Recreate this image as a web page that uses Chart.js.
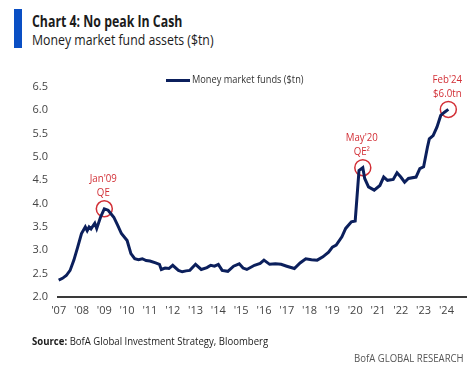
<!DOCTYPE html>
<html>
<head>
<meta charset="utf-8">
<script src="https://cdn.jsdelivr.net/npm/chart.js@4"></script>
<style>
  body { margin: 0; background: #fff; font-family: "Open Sans", sans-serif; }
  .page { position: relative; width: 476px; height: 365px; overflow: hidden; }
  .bar { position: absolute; left: 14px; top: 9px; width: 8px; height: 39px; background: #0a4fc4; }
  .txt { position: absolute; white-space: nowrap; color: #1b1b1b; transform-origin: left top; }
  #title { left: 32px; top: 10px; font-size: 16px; font-weight: 700; transform: scaleX(0.77); }
  #subtitle { left: 32px; top: 29px; font-size: 15px; transform: scaleX(0.82); }
  #source { left: 32px; top: 333px; font-size: 11px; transform: scaleX(0.87); }
  #brand { left: 354px; top: 350px; font-size: 11px; color: #555; transform: scaleX(0.87); }
  canvas { position: absolute; left: 0; top: 0; }
</style>
</head>
<body>
<div class="page">
  <div class="bar"></div>
  <div class="txt" id="title">Chart 4: No peak In Cash</div>
  <div class="txt" id="subtitle">Money market fund assets ($tn)</div>
  <canvas id="mmfChart" width="476" height="365"></canvas>
  <div class="txt" id="source"><b>Source:</b> BofA Global Investment Strategy, Bloomberg</div>
  <div class="txt" id="brand">BofA GLOBAL RESEARCH</div>
</div>
<script>
/* ================= DATA ================= */

const months = [
  "2007-01", "2007-03", "2007-05", "2007-07", "2007-09", "2007-11",
  "2008-01", "2008-03", "2008-04", "2008-05", "2008-06", "2008-08", "2008-09", "2008-11",
  "2009-01", "2009-03", "2009-06", "2009-08", "2009-10",
  "2010-01", "2010-03", "2010-05", "2010-07", "2010-09", "2010-11",
  "2011-01", "2011-04", "2011-06", "2011-07", "2011-09", "2011-11",
  "2012-01", "2012-04", "2012-06", "2012-08", "2012-10",
  "2013-01", "2013-04", "2013-07", "2013-09", "2013-11",
  "2014-01", "2014-03", "2014-06", "2014-09", "2014-12",
  "2015-02", "2015-04", "2015-08", "2015-11",
  "2016-01", "2016-04", "2016-07", "2016-10",
  "2017-01", "2017-05", "2017-08", "2017-11",
  "2018-02", "2018-05", "2018-08", "2018-11",
  "2019-01", "2019-03", "2019-06", "2019-08", "2019-11",
  "2020-01", "2020-03", "2020-05", "2020-06", "2020-08", "2020-11",
  "2021-02", "2021-04", "2021-06", "2021-09", "2021-11",
  "2022-01", "2022-03", "2022-05", "2022-09", "2022-11",
  "2023-01", "2023-03", "2023-04", "2023-06", "2023-08", "2023-10", "2023-12",
  "2024-02"
];

const mmfAssets = [
  2.36, 2.40, 2.46, 2.57, 2.79, 3.07,
  3.36, 3.50, 3.42, 3.50, 3.46, 3.58, 3.47, 3.71,
  3.89, 3.86, 3.71, 3.54, 3.36,
  3.21, 2.93, 2.82, 2.80, 2.82, 2.78,
  2.77, 2.73, 2.70, 2.59, 2.62, 2.61,
  2.68, 2.57, 2.54, 2.56, 2.57,
  2.70, 2.59, 2.63, 2.68, 2.66,
  2.70, 2.57, 2.55, 2.66, 2.71,
  2.62, 2.59, 2.68, 2.72,
  2.79, 2.70, 2.71, 2.70,
  2.66, 2.61, 2.73, 2.82,
  2.80, 2.79, 2.86, 2.96,
  3.07, 3.11, 3.29, 3.47, 3.61,
  3.63, 4.71, 4.77, 4.54, 4.36, 4.29,
  4.39, 4.57, 4.50, 4.52, 4.66,
  4.57, 4.46, 4.54, 4.57, 4.75,
  4.79, 5.21, 5.39, 5.46, 5.64, 5.89, 5.96,
  6.02
];

const tickYears = [2007, 2008, 2009, 2010, 2011, 2012, 2013, 2014, 2015,
                   2016, 2017, 2018, 2019, 2020, 2021, 2022, 2023, 2024];

const callMonths = ["2009-01", "2020-05", "2024-02"];
const callValues = [3.89, 4.77, 6.02];
const callLabels = [["Jan'09", "QE"], ["May'20", "QE\u00B2"], ["Feb'24", "$6.0tn"]];

const seriesName = "Money market funds ($tn)";

/* ================= HELPERS ================= */

const NAVY = "#0b1f5c";
const RED = "#d22f36";
const FONT = "'Open Sans', sans-serif";

function toYear(m) {
  const [y, mo] = m.split("-").map(Number);
  return y + (mo - 1) / 12;
}

// the source uses a narrow face, so squeeze canvas text a bit
function narrowText(ctx, text, x, y, sx) {
  ctx.save();
  ctx.translate(x, y);
  ctx.scale(sx, 1);
  ctx.fillText(text, 0, 0);
  ctx.restore();
}

const linePoints = months.map((m, i) => ({ x: toYear(m), y: mmfAssets[i] }));
const callPoints = callMonths.map((m, i) => ({ x: toYear(m), y: callValues[i] }));

/* ================= PLUGINS ================= */

// red labels over the circled points
const calloutText = {
  id: "calloutText",
  afterDatasetsDraw(chart) {
    const { ctx, scales } = chart;
    ctx.save();
    ctx.fillStyle = RED;
    ctx.font = "11px " + FONT;
    ctx.textAlign = "center";
    ctx.textBaseline = "middle";
    callPoints.forEach((p, i) => {
      const px = scales.x.getPixelForValue(p.x);
      const py = scales.y.getPixelForValue(p.y);
      narrowText(ctx, callLabels[i][0], px - 1, py - 30, 0.88);
      narrowText(ctx, callLabels[i][1], px - 1, py - 16, 0.88);
    });
    ctx.restore();
  }
};

// small legend sitting above the plot
const lineLegend = {
  id: "lineLegend",
  afterDraw(chart) {
    const { ctx } = chart;
    ctx.save();
    ctx.strokeStyle = NAVY;
    ctx.lineWidth = 3;
    ctx.beginPath();
    ctx.moveTo(166, 80.5);
    ctx.lineTo(190, 80.5);
    ctx.stroke();
    ctx.fillStyle = "#333";
    ctx.font = "11px " + FONT;
    ctx.textBaseline = "middle";
    narrowText(ctx, seriesName, 192, 80, 0.84);
    ctx.restore();
  }
};

/* ================= CHART ================= */

new Chart(document.getElementById("mmfChart"), {
  type: "line",
  data: {
    datasets: [
      {
        label: seriesName,
        data: linePoints,
        borderColor: NAVY,
        borderWidth: 3,
        pointRadius: 0,
        tension: 0,
        clip: false
      },
      {
        label: "callouts",
        data: callPoints,
        showLine: false,
        pointRadius: 8,
        pointBorderWidth: 1.5,
        pointBorderColor: RED,
        pointBackgroundColor: "rgba(0,0,0,0)",
        clip: false
      }
    ]
  },
  options: {
    responsive: false,
    animation: false,
    layout: { padding: { left: 0, right: 9, top: 87, bottom: 38 } },
    plugins: {
      legend: { display: false },
      tooltip: { enabled: false }
    },
    scales: {
      x: {
        type: "linear",
        min: 2006.97,
        max: 2024.88,
        afterBuildTicks: (scale) => {
          scale.ticks = tickYears.map(v => ({ value: v }));
        },
        afterFit: (scale) => { scale.height = 30; },
        ticks: {
          autoSkip: false,
          maxRotation: 0,
          padding: 7,
          color: "#444",
          font: { family: FONT, size: 11 },
          callback: (v) => "'" + String(Math.round(v)).slice(2)
        },
        grid: { display: false, drawTicks: false },
        border: { display: true, color: "#3a3a3a", width: 2 }
      },
      y: {
        min: 2,
        max: 6.5,
        afterFit: (scale) => { scale.width = 58; },
        ticks: {
          stepSize: 0.5,
          padding: 10,
          color: "#444",
          font: { family: FONT, size: 11 },
          callback: (v) => v.toFixed(1)
        },
        grid: { display: false, drawTicks: false },
        border: { display: false }
      }
    }
  },
  plugins: [calloutText, lineLegend]
});
</script>
</body>
</html>
